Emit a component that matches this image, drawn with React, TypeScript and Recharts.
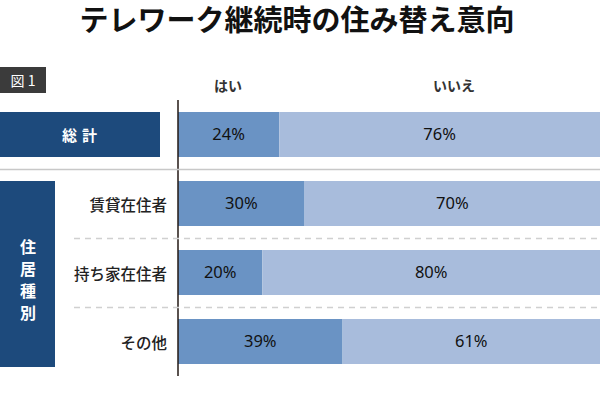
import { BarChart, Bar, XAxis, YAxis, LabelList } from "recharts";

const categories = ["総計", "賃貸在住者", "持ち家在住者", "その他"];
const yesValues = [24, 30, 20, 39];
const noValues = [76, 70, 80, 61];
const seriesNames = ["はい", "いいえ"];
const groupLabel = ["住", "居", "種", "別"];

const data = categories.map((name, i) => ({
  name,
  yes: yesValues[i],
  no: noValues[i],
}));

const FONT = "'Noto Sans CJK JP', 'Noto Sans', sans-serif";
const NUM_FONT = "'Noto Sans', 'DejaVu Sans', sans-serif";
const NAVY = "#1d4a7c";

function RowTick(props: any) {
  const { y, payload, index } = props;
  const name = payload.value;
  if (index === 0) {
    return (
      <g>
        <rect x={0} y={y - 22.5} width={160} height={45} fill={NAVY} />
        <text x={82} y={y} fill="#fff" fontSize={15} fontWeight={700} textAnchor="middle" dominantBaseline="central" letterSpacing={5} fontFamily={FONT}>
          {name}
        </text>
        <line x1={0} x2={600} y1={y + 35} y2={y + 35} stroke="#c8c8c8" strokeWidth={1.5} />
      </g>
    );
  }
  return (
    <g>
      {index === 1 && (
        <g>
          <rect x={0} y={y - 22.5} width={55} height={186} fill={NAVY} />
          {groupLabel.map((c, k) => (
            <text key={k} x={28} y={y + 42 + k * 22} fill="#fff" fontSize={16} fontWeight={700} textAnchor="middle" dominantBaseline="central" fontFamily={FONT}>
              {c}
            </text>
          ))}
        </g>
      )}
      <text x={167} y={y} fill="#222" fontSize={15.5} fontWeight={500} textAnchor="end" dominantBaseline="central" fontFamily={FONT}>
        {name}
      </text>
      {index < categories.length - 1 && (
        <line x1={74} x2={600} y1={y + 35} y2={y + 35} stroke="#d0d0d0" strokeWidth={1.5} strokeDasharray="6 5" />
      )}
    </g>
  );
}

export default function App() {
  return (
    <div style={{ position: "absolute", left: 0, top: 0, width: 600, height: 393, background: "#fff", fontFamily: FONT }}>
      <div style={{ position: "absolute", left: 0, top: 0, width: 594, textAlign: "center", fontSize: 29, fontWeight: 700, color: "#111", lineHeight: "36px" }}>
        テレワーク継続時の住み替え意向
      </div>
      <div style={{ position: "absolute", left: 0, top: 67, width: 46, height: 26, background: "#3b3b3b", color: "#fff", fontSize: 14, lineHeight: "26px", textAlign: "center" }}>
        図 1
      </div>
      <div style={{ position: "absolute", left: 198, top: 75, width: 60, textAlign: "center", fontSize: 14, fontWeight: 700, color: "#333", lineHeight: "20px" }}>
        {seriesNames[0]}
      </div>
      <div style={{ position: "absolute", left: 414, top: 75, width: 80, textAlign: "center", fontSize: 14, fontWeight: 700, color: "#333", lineHeight: "20px" }}>
        {seriesNames[1]}
      </div>
      <div style={{ position: "absolute", left: 0, top: 0 }}>
        <BarChart width={600} height={393} data={data} layout="vertical" margin={{ top: 100, right: 0, bottom: 17, left: 0 }}>
          <XAxis type="number" domain={[0, 100]} hide />
          <YAxis
            type="category"
            dataKey="name"
            width={178}
            tickLine={false}
            axisLine={{ stroke: "#231815", strokeWidth: 1.5 }}
            tick={<RowTick />}
            interval={0}
          />
          <Bar dataKey="yes" name={seriesNames[0]} stackId="a" fill="#6a93c4" barSize={45} isAnimationActive={false}>
            <LabelList dataKey="yes" position="center" formatter={(v: any) => `${v}%`} fill="#111" fontSize={16.5} fontFamily={NUM_FONT} />
          </Bar>
          <Bar dataKey="no" name={seriesNames[1]} stackId="a" fill="#a8bcdc" barSize={45} isAnimationActive={false}>
            <LabelList dataKey="no" position="center" formatter={(v: any) => `${v}%`} fill="#111" fontSize={16.5} fontFamily={NUM_FONT} />
          </Bar>
        </BarChart>
      </div>
    </div>
  );
}
